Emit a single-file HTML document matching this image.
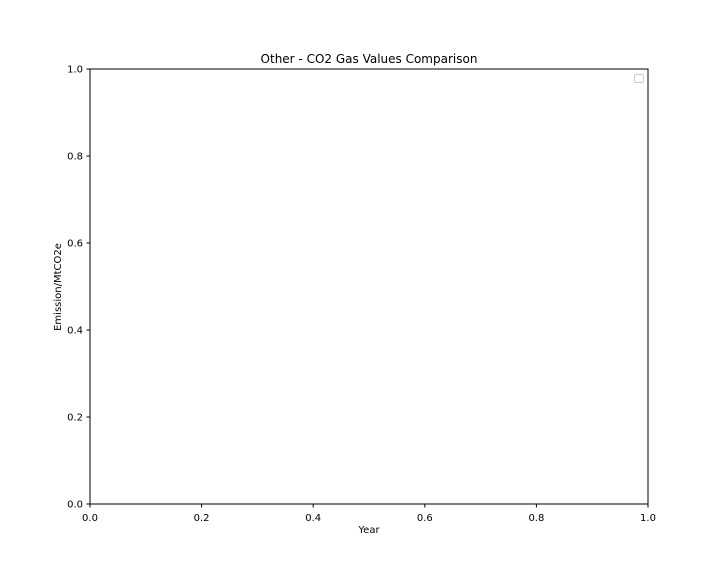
<!DOCTYPE html>
<html><head><meta charset="utf-8"><style>
body{margin:0;background:#fff;}
svg text{font-family:"DejaVu Sans","Liberation Sans",sans-serif;fill:#000;}
</style></head><body>
<svg id="chart" width="720" height="576">
<rect x="0" y="0" width="720" height="576" fill="#fff"/>
<text x="369" y="63" font-size="12" text-anchor="middle">Other - CO2 Gas Values Comparison</text>
<text x="369" y="533" font-size="10" text-anchor="middle">Year</text>
<text transform="translate(61,287) rotate(-90)" font-size="10" text-anchor="middle">Emission/MtCO2e</text>
<g id="ticks"></g>
<rect x="90" y="69" width="558" height="435" fill="none" stroke="#000" stroke-width="1"/>
<rect x="634.5" y="74.5" width="9" height="8" rx="1.5" fill="#fff" stroke="#ccc"/>
</svg>
<script>
const xTicks=[0,0.2,0.4,0.6,0.8,1.0];
const yTicks=[0,0.2,0.4,0.6,0.8,1.0];
const xLabels=["0.0","0.2","0.4","0.6","0.8","1.0"];
const yLabels=["0.0","0.2","0.4","0.6","0.8","1.0"];
const X0=90,X1=648,Y0=504,Y1=69;
function xs(v){return X0+v*(X1-X0);}
function ys(v){return Y0-v*(Y0-Y1);}
const g=document.getElementById('ticks');
const NS="http://www.w3.org/2000/svg";
xTicks.forEach((v,i)=>{
  const x=xs(v);
  const l=document.createElementNS(NS,'line');
  l.setAttribute('x1',x);l.setAttribute('x2',x);l.setAttribute('y1',Y0);l.setAttribute('y2',Y0+3.5);l.setAttribute('stroke','#000');
  
  
  g.appendChild(l);
  const t=document.createElementNS(NS,'text');
  t.setAttribute('x',x);t.setAttribute('y',Y0+17);t.setAttribute('font-size','10');t.setAttribute('text-anchor','middle');
  t.textContent=xLabels[i];
  
  
  g.appendChild(t);
});
yTicks.forEach((v,i)=>{
  const y=ys(v);
  const l=document.createElementNS(NS,'line');
  l.setAttribute('x1',X0-3.5);l.setAttribute('x2',X0);l.setAttribute('y1',y);l.setAttribute('y2',y);l.setAttribute('stroke','#000');
  
  
  g.appendChild(l);
  const t=document.createElementNS(NS,'text');
  t.setAttribute('x',X0-7);t.setAttribute('y',y+3.5);t.setAttribute('font-size','10');t.setAttribute('text-anchor','end');
  t.textContent=yLabels[i];
  
  
  g.appendChild(t);
});
</script>
</body></html>
